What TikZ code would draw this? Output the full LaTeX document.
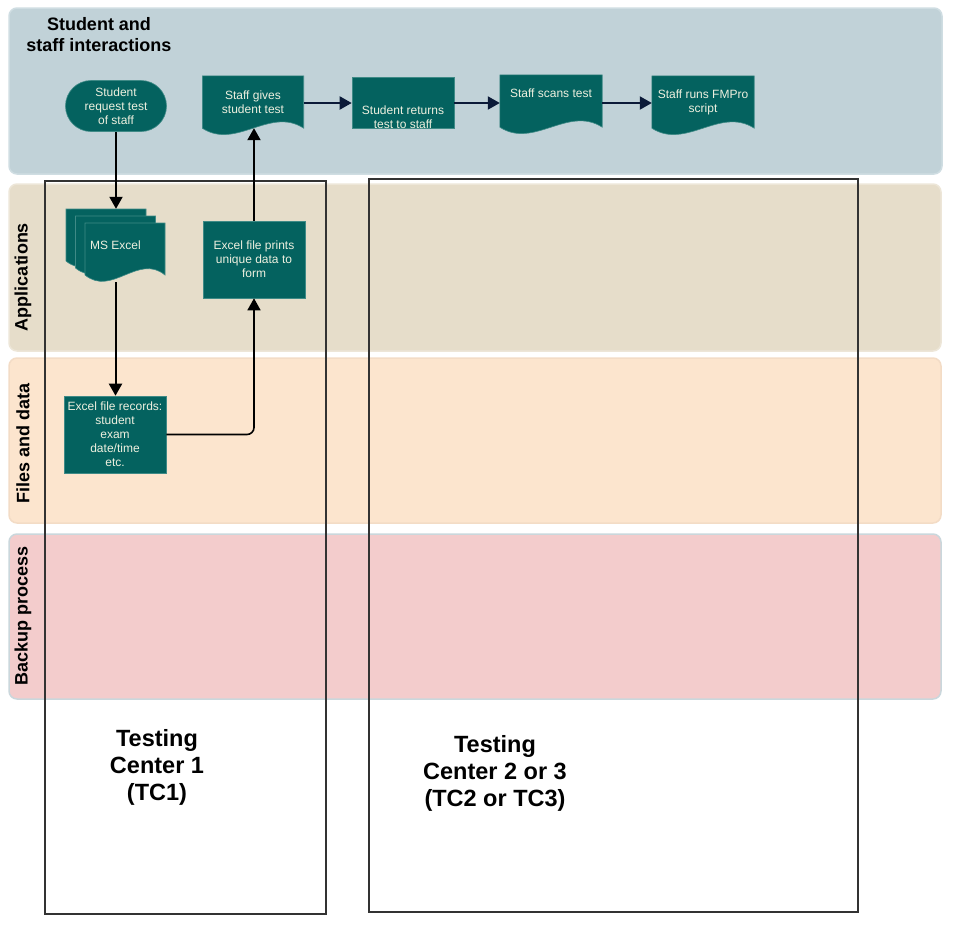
\documentclass[tikz,border=0pt]{standalone}
\usepackage{fontspec}
\setmainfont{Liberation Sans}
\usetikzlibrary{calc,arrows.meta}
\pgfdeclarelayer{lanes}
\pgfdeclarelayer{shapes}
\pgfsetlayers{lanes,shapes,main}

\definecolor{tealbox}{HTML}{04625F}
\definecolor{tealedge}{HTML}{3F8A86}
\definecolor{boxtext}{HTML}{EEF0DF}
\definecolor{navy}{HTML}{0B1A38}
\definecolor{laneA}{HTML}{C1D2D8}
\definecolor{laneAedge}{HTML}{CFDDE2}
\definecolor{laneB}{HTML}{E6DDCA}
\definecolor{laneBedge}{HTML}{EDE6D8}
\definecolor{laneC}{HTML}{FCE5CE}
\definecolor{laneCedge}{HTML}{F3DCC6}
\definecolor{laneD}{HTML}{F3CCCC}
\definecolor{laneDedge}{HTML}{CAD7DC}

\tikzset{
  lane/.style={rounded corners=8pt, line width=1.5pt},
  lanelabel/.style={font=\fontsize{18}{21}\selectfont\bfseries, align=center, inner sep=0pt},
  boxtxt/.style={text=boxtext, font=\fontsize{12}{14}\selectfont, align=center, inner sep=0pt},
  procbox/.style={boxtxt, fill=tealbox, draw=tealedge, line width=0.6pt},
  stadium/.style={procbox, rounded corners=25.5pt},
  docbox/.style={boxtxt},
  wavefill/.style={fill=tealbox, draw=tealedge, line width=0.6pt},
  flowarrow/.style={line width=2pt, -{Triangle[width=13pt,length=12pt]}},
  navyarrow/.style={flowarrow, draw=navy, color=navy},
  tcframe/.style={draw=black!80, line width=1.5pt},
  centertext/.style={font=\fontsize{23.5}{27}\selectfont\bfseries, align=center},
}

\newcommand{\wavedoc}[1]{\path[wavefill] (#1.north west) -- (#1.north east) -- (#1.south east)
  .. controls ($(#1.south east)!0.333!(#1.south west)+(0,-22)$) and ($(#1.south east)!0.667!(#1.south west)+(0,22)$) .. (#1.south west) -- cycle;}
\newcommand{\wavepage}[4]{\path[wavefill] (#1,#2) -- (#3,#2) -- (#3,#4)
  .. controls ({#3-(#3-#1)/3},{#4-22}) and ({#1+(#3-#1)/3},{#4+22}) .. (#1,#4) -- cycle;}

\begin{document}
\begin{tikzpicture}[x=1pt,y=-1pt]
\useasboundingbox (0,0) rectangle (961,935);

% lanes and frames
\begin{pgfonlayer}{lanes}
\path[lane, fill=laneA, draw=laneAedge] (9,8) rectangle (942,174);
\path[lane, fill=laneB, draw=laneBedge] (9,184) rectangle (941,351);
\path[lane, fill=laneC, draw=laneCedge] (9,358) rectangle (941,523);
\path[lane, fill=laneD, draw=laneDedge] (9,534) rectangle (941,699);
\draw[tcframe] (45,181) rectangle (326,914);
\draw[tcframe] (369,179) rectangle (858,912);
\end{pgfonlayer}

% lane labels
\node[lanelabel] (labA) at (99,35) {Student and\\staff interactions};
\node[lanelabel, rotate=90] (labB) at (23,277) {Applications};
\node[lanelabel, rotate=90] (labC) at (23,443) {Files and data};
\node[lanelabel, rotate=90] (labD) at (23,616) {Backup process};

% nodes
\node[stadium, minimum width=101pt, minimum height=51pt] (sreq) at (116,106) {Student\\request test\\of staff};
\node[docbox, minimum width=101pt, minimum height=52pt] (sg) at (253,102) {Staff gives\\student test};
\node[procbox, minimum width=102pt, minimum height=51pt,
      label={[boxtxt,yshift=-14pt]center:{Student returns\\test to staff}}] (sr) at (403,103) {};
\node[docbox, minimum width=102pt, minimum height=52pt,
      label={[boxtxt,yshift=8pt]center:{Staff scans test}}] (ss) at (551,101) {};
\node[docbox, minimum width=102pt, minimum height=52pt] (sf) at (703,102) {Staff runs FMPro\\script};
\node[docbox, minimum width=99pt, minimum height=73pt] (msx) at (115.5,245.5) {MS Excel};
\node[procbox, minimum width=102pt, minimum height=77pt] (ep) at (254,259.5) {Excel file prints\\unique data to\\form};
\node[procbox, minimum width=102pt, minimum height=77pt] (er) at (115,434.5) {Excel file records:\\student\\exam\\date/time\\etc.};

\begin{pgfonlayer}{shapes}
\wavedoc{sg}
\wavedoc{ss}
\wavedoc{sf}
\wavepage{66}{209}{146}{261}
\wavepage{75.5}{216}{155.5}{268}
\wavepage{85}{223}{165}{275}
\end{pgfonlayer}

% connectors
\draw[flowarrow] (sreq.south) -- (sreq.south |- msx.north);
\draw[flowarrow] (msx.south) -- (msx.south |- er.north);
\draw[line width=1.6pt, rounded corners=7pt, -{Triangle[width=13pt,length=12pt]}] (er.east) -| (ep.south);
\draw[flowarrow] (ep.north) -- (ep.north |- sg.south);
\draw[navyarrow] (sg.east |- sr.west) -- (sr.west);
\draw[navyarrow] (sr.east) -- (sr.east -| ss.west);
\draw[navyarrow] (ss.east |- sr.east) -- (sf.west |- sr.east);

% testing centre captions
\node[centertext] (tc1) at (157,767) {Testing\\Center 1\\(TC1)};
\node[centertext] (tc2) at (495,773) {Testing\\Center 2 or 3\\(TC2 or TC3)};
\end{tikzpicture}
\end{document}
